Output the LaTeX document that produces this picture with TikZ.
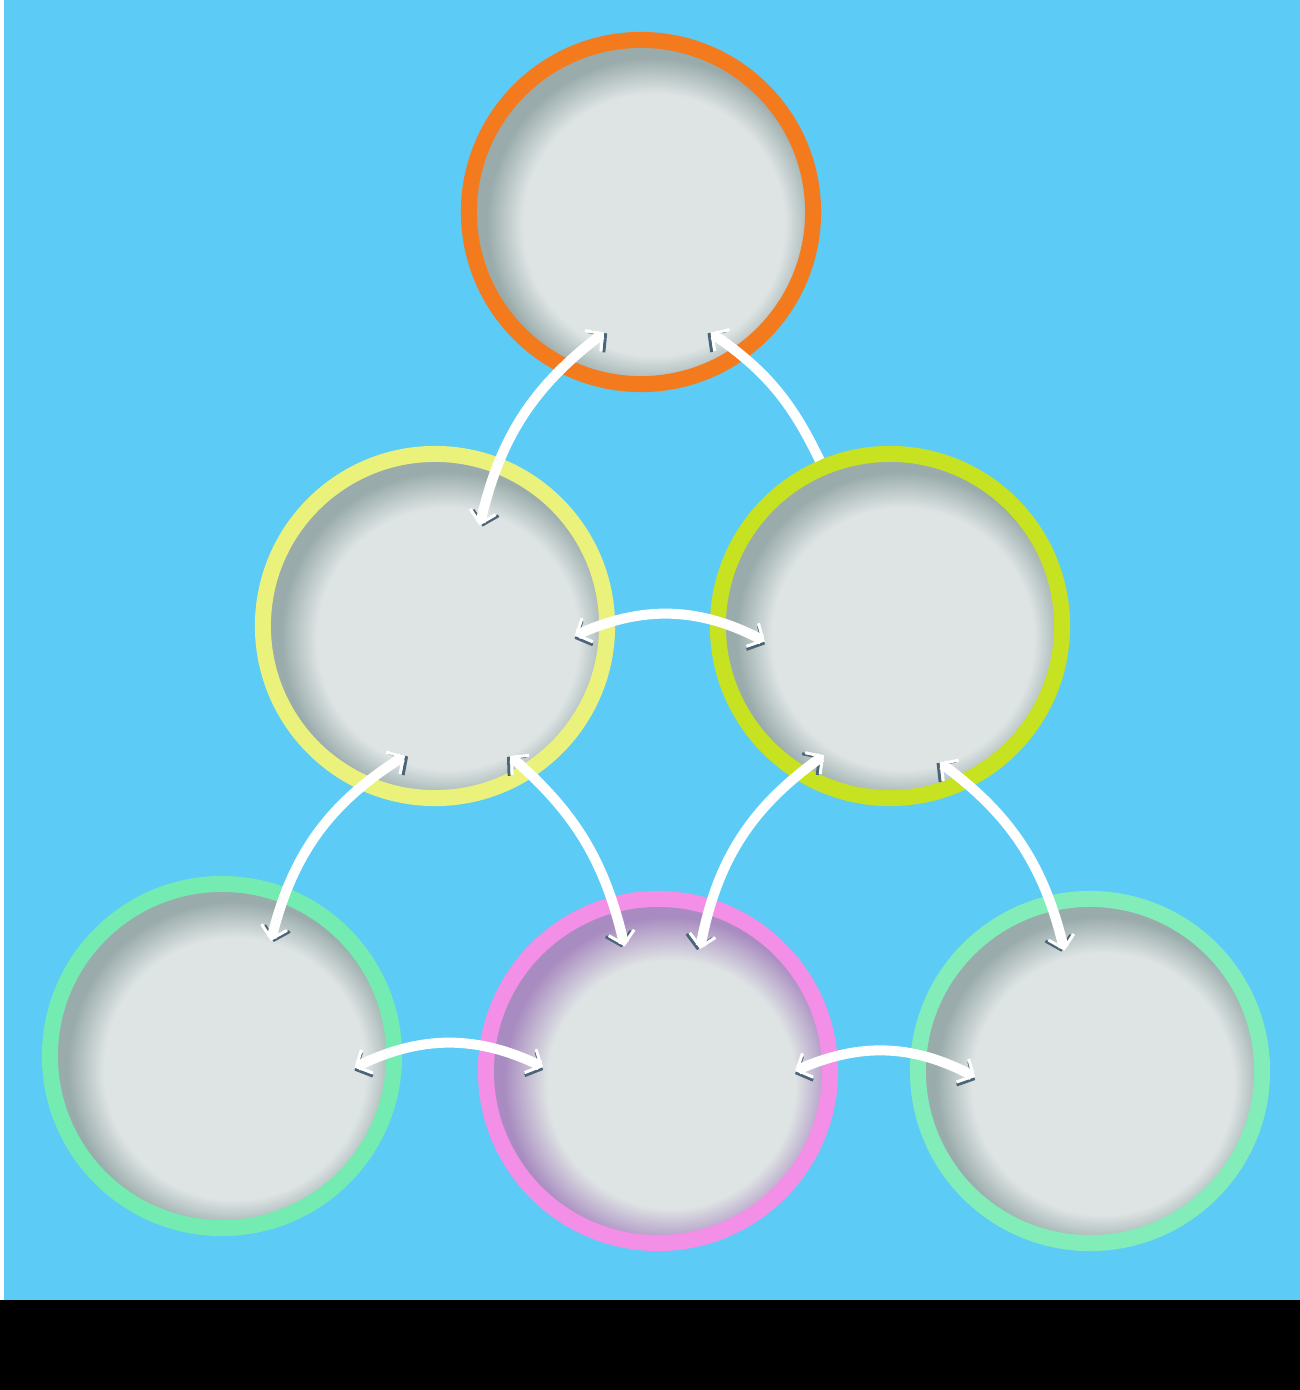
\documentclass[tikz,border=0pt]{standalone}
\usetikzlibrary{arrows.meta,calc}

\definecolor{skyblue}{HTML}{5CCBF6}
\definecolor{discin}{HTML}{DEE4E4}
\definecolor{discedge}{HTML}{9AABAB}
\definecolor{discpurple}{HTML}{A88BC0}
\definecolor{linkshade}{HTML}{4A6478}
\definecolor{ringorange}{HTML}{F47A1E}
\definecolor{ringyellow}{HTML}{EAF27C}
\definecolor{ringlime}{HTML}{C6E220}
\definecolor{ringmint}{HTML}{74EBB0}
\definecolor{ringpink}{HTML}{F38FE6}

\pgfdeclareradialshading{discgray}{\pgfpoint{3bp}{-3bp}}{color(0bp)=(discin); color(19bp)=(discin); color(24bp)=(discedge); color(50bp)=(discedge)}
\pgfdeclareradialshading{discpink}{\pgfpoint{3bp}{-3bp}}{color(0bp)=(discin); color(18bp)=(discin); color(24bp)=(discpurple); color(50bp)=(discpurple)}

\tikzset{barb/.tip={Straight Barb[length=0.12cm, width=0.26cm, line width=0.03cm]}}

\begin{document}
\begin{tikzpicture}[x=0.01cm, y=0.01cm,
    disc/.style={circle, minimum size=3.44cm, inner sep=0pt, line width=0.16cm, shading=discgray},
    link/.style={draw=white, line width=0.1cm, barb-barb, preaction={draw=linkshade, transform canvas={shift={#1}}}},
    link/.default={(0,-3)}]

    \useasboundingbox (0,0) rectangle (1300,-1390);
    \fill[white] (0,0) rectangle (1300,-1300);
    \fill[skyblue] (4,0) rectangle (1300,-1300);
    \fill[black] (0,-1300) rectangle (1300,-1390);

    \node (top) [disc, draw=ringorange] at (641,-212) {};

    \node (ml) [disc, draw=ringyellow] at (435,-626) {};
    \node (mr) [disc, draw=ringlime] at (890,-626) {};

    \node (bl) [disc, draw=ringmint] at (222,-1056) {};
    \node (bm) [disc, draw=ringpink, shading=discpink] at (658,-1071) {};
    \node (br) [disc, draw=ringmint!90!white] at (1090,-1071) {};

    \draw [link={(3,-1)}] ($(top)+(253:126)$) to[bend right=20] ($(ml)+(66:110)$);
    \draw [link={(-3,-1)}, barb-] ($(top)+(-60:139)$) to[bend left=15] (mr.113);
    \draw [link] ($(ml)+(-4:140)$) to[bend left=26] ($(mr)+(187:126)$);

    \draw [link={(3,-1)}] ($(ml)+(257:133)$) to[bend right=22] ($(bl)+(67:125)$);
    \draw [link={(-3,-1)}] ($(ml)+(-60:150)$) to[bend left=18] ($(bm)+(105:129)$);
    \draw [link={(-3,-1)}] ($(mr)+(243:145)$) to[bend right=22] ($(bm)+(71:129)$);
    \draw [link={(-3,-1)}] ($(mr)+(-70:145)$) to[bend left=20] ($(br)+(102:123)$);

    \draw [link] ($(bl)+(-5:133)$) to[bend left=26] ($(bm)+(178:115)$);
    \draw [link] ($(bm)+(0:137)$) to[bend left=26] ($(br)+(183:115)$);
\end{tikzpicture}
\end{document}
